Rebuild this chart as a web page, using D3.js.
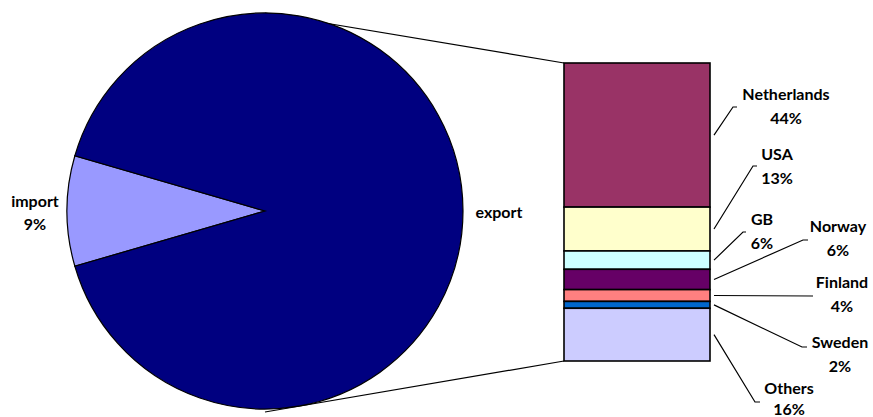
<!DOCTYPE html>
<html><head><meta charset="utf-8">
<script src="https://cdn.jsdelivr.net/npm/d3@7"></script>
<style>body{margin:0;background:#fff}svg{display:block}text{font-family:Lato,"Open Sans",sans-serif;font-weight:bold;font-size:16px;fill:#000}</style>
</head><body><svg id="c" width="873" height="417"></svg>
<script>
const pieCategories = ["import", "export"];
const pieValues = [9, 91];
const pieColors = ["#9999FF", "#000080"];
const barCategories = ["Netherlands", "USA", "GB", "Norway", "Finland", "Sweden", "Others"];
const barValues = [44.0, 13.4, 5.6, 6.2, 3.6, 2.1, 16.1];
const barColors = ["#993366", "#FFFFCC", "#CCFFFF", "#660066", "#FF8080", "#0066CC", "#CCCCFF"];

const svg = d3.select("#c");
const cx = 265, cy = 211, R = 198;
const barX = 564, barW = 146, barTop = 63, barBot = 361;

const total = d3.sum(pieValues);
const impAng = pieValues[0] / total * 2 * Math.PI;
const pie = d3.pie().sort(null)
  .startAngle(-Math.PI / 2 - impAng / 2)
  .endAngle(-Math.PI / 2 - impAng / 2 + 2 * Math.PI);
const arcs = pie(pieValues);
const arc = d3.arc().innerRadius(0).outerRadius(R);

// series lines
const exportTotal = d3.sum(barValues);
const y = d3.scaleLinear().domain([0, exportTotal]).range([barTop, barBot]);
svg.append("line").attr("x1", cx).attr("y1", cy - R).attr("x2", barX).attr("y2", y(0))
  .attr("stroke", "#000").attr("stroke-width", 1.2);
svg.append("line").attr("x1", cx).attr("y1", cy + R + 3).attr("x2", barX).attr("y2", y(exportTotal))
  .attr("stroke", "#000").attr("stroke-width", 1.2);

const g = svg.append("g").attr("transform", `translate(${cx},${cy})`);
g.selectAll("path").data(arcs).join("path")
  .attr("d", arc).attr("fill", (d, i) => pieColors[i])
  .attr("stroke", "#000").attr("stroke-width", 1.2);

// pie labels
const pieLabelPos = [{x: 35, y: 207, lines: 2}, {x: 499, y: 218, lines: 1}];
pieCategories.forEach((c, i) => {
  const p = pieLabelPos[i];
  const t = svg.append("text").attr("text-anchor", "middle");
  t.append("tspan").attr("x", p.x).attr("y", p.y).text(c);
  if (p.lines === 2) t.append("tspan").attr("x", p.x).attr("y", p.y + 23).text(Math.round(pieValues[i]) + "%");
});

// bar
const starts = d3.cumsum([0].concat(barValues));
svg.selectAll("rect.seg").data(barValues).join("rect").attr("class", "seg")
  .attr("x", barX).attr("width", barW)
  .attr("y", (d, i) => y(starts[i])).attr("height", d => y(d) - y(0))
  .attr("fill", (d, i) => barColors[i])
  .attr("stroke", "#000").attr("stroke-width", 1.6);

// bar labels with leaders
const labelLayout = [
  {tx: 786, ty: 100, dy: 24, lx: 733, ly: 107, hx: 737},
  {tx: 777, ty: 160, dy: 24, lx: 753, ly: 166, hx: 757},
  {tx: 762, ty: 225, dy: 24, lx: 743, ly: 232, hx: 746},
  {tx: 838, ty: 232, dy: 24, lx: 803, ly: 240, hx: 808},
  {tx: 842, ty: 288, dy: 24, lx: 813, ly: 296, hx: 813},
  {tx: 840, ty: 348, dy: 24, lx: 802, ly: 347, hx: 807},
  {tx: 789, ty: 394, dy: 21, lx: 755, ly: 402, hx: 760}
];
barCategories.forEach((c, i) => {
  const L = labelLayout[i];
  const my = (y(starts[i]) + y(starts[i + 1])) / 2;
  svg.append("polyline")
    .attr("points", `${barX + barW + 4},${my} ${L.lx},${L.ly} ${L.hx},${L.ly}`)
    .attr("fill", "none").attr("stroke", "#000").attr("stroke-width", 1.2);
  const t = svg.append("text").attr("text-anchor", "middle");
  t.append("tspan").attr("x", L.tx).attr("y", L.ty).text(c);
  t.append("tspan").attr("x", L.tx).attr("y", L.ty + L.dy).text(Math.round(barValues[i]) + "%");
});
</script></body></html>
